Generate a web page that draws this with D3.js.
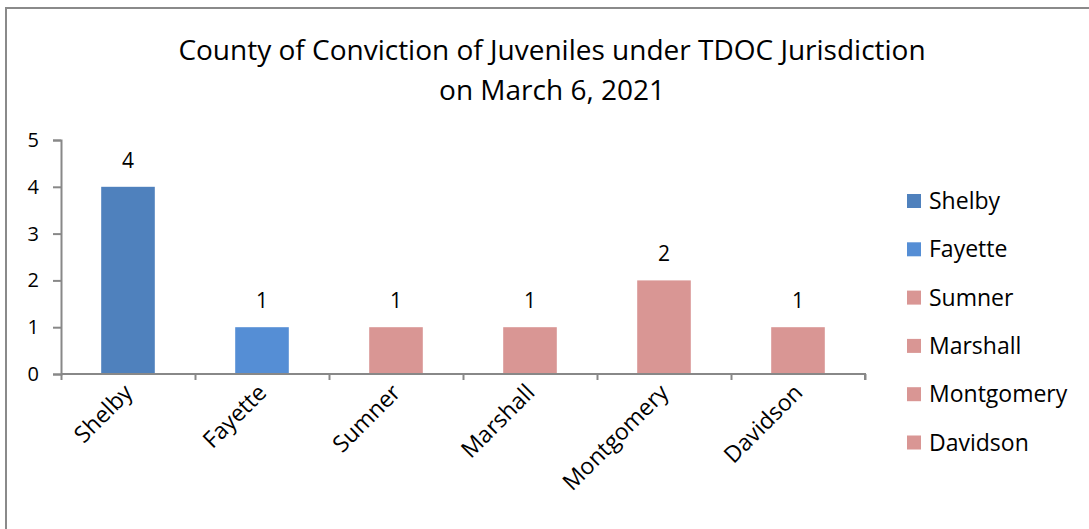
<!DOCTYPE html>
<html>
<head>
<meta charset="utf-8">
<script src="https://cdn.jsdelivr.net/npm/d3@7"></script>
<style>
  body { margin: 0; background: #fff; }
  text { font-family: "Open Sans", sans-serif; fill: #000; }
</style>
</head>
<body>
<script>
const WIDTH = 1089;
const HEIGHT = 529;

// Chart data.
const counties = ['Shelby', 'Fayette', 'Sumner', 'Marshall', 'Montgomery', 'Davidson'];
const counts = [4, 1, 1, 1, 2, 1];
const barColors = ['#4f81bd', '#558ed5', '#d99694', '#d99694', '#d99694', '#d99694'];
const yTicks = [0, 1, 2, 3, 4, 5];
const titleLines = ['County of Conviction of Juveniles under TDOC Jurisdiction', 'on March 6, 2021'];

const plot = { left: 61, right: 865, top: 140, bottom: 374 };

var svg = d3.select('body')
    .append('svg')
    .attr('width', WIDTH)
    .attr('height', HEIGHT);

// Outer chart border (only top and left edges are inside the frame).
svg.append('rect')
    .attr('x', 6)
    .attr('y', 8)
    .attr('width', WIDTH + 20)
    .attr('height', HEIGHT + 20)
    .attr('fill', 'none')
    .attr('stroke', '#8a8a8a')
    .attr('stroke-width', 2);

// Title.
svg.append('text')
    .attr('text-anchor', 'middle')
    .style('font-size', '28px')
    .selectAll('tspan')
    .data(titleLines)
    .enter()
    .append('tspan')
    .attr('x', 552)
    .attr('y', (d, i) => 60 + i * 40)
    .text(d => d);

var x = d3.scaleBand()
    .domain(counties)
    .range([plot.left, plot.right])
    .paddingInner(0.6)
    .paddingOuter(0.3);

var y = d3.scaleLinear()
    .domain([0, 5])
    .range([plot.bottom, plot.top]);

// Bars.
svg.selectAll('.bar')
    .data(counties)
    .enter()
    .append('rect')
    .attr('class', 'bar')
    .attr('x', d => x(d))
    .attr('y', (d, i) => y(counts[i]))
    .attr('width', x.bandwidth())
    .attr('height', (d, i) => y(0) - y(counts[i]))
    .attr('fill', (d, i) => barColors[i]);

// Value labels.
svg.selectAll('.value')
    .data(counties)
    .enter()
    .append('text')
    .attr('class', 'value')
    .attr('x', d => x(d) + x.bandwidth() / 2)
    .attr('y', (d, i) => y(counts[i]) - 19)
    .attr('text-anchor', 'middle')
    .style('font-size', '21px')
    .text((d, i) => counts[i]);

// Y axis.
var yAxis = svg.append('g')
    .attr('transform', `translate(${plot.left},0)`)
    .call(d3.axisLeft(y).tickValues(yTicks).tickFormat(d3.format('d')).tickSize(8).tickPadding(14));
yAxis.selectAll('text').style('font-size', '20px').attr('fill', '#000');

// X axis with ticks at band boundaries.
var xEdges = d3.scaleLinear().domain([0, counties.length]).range([plot.left, plot.right]);
var xAxis = svg.append('g')
    .attr('transform', `translate(0,${plot.bottom})`)
    .call(d3.axisBottom(xEdges).ticks(counties.length).tickSize(6).tickFormat(''));
xAxis.select('.domain').attr('d', `M${plot.left},0H${plot.right}V6`);

svg.selectAll('.domain, .tick line')
    .attr('stroke', '#888')
    .attr('stroke-width', 2);

// Rotated category labels.
svg.selectAll('.xlabel')
    .data(counties)
    .enter()
    .append('text')
    .attr('class', 'xlabel')
    .attr('text-anchor', 'end')
    .attr('transform', d => `translate(${x(d) + x.bandwidth() / 2 + 6},${plot.bottom + 20}) rotate(-45)`)
    .style('font-size', '23px')
    .text(d => d);

// Legend.
var legend = svg.selectAll('.legend')
    .data(counties)
    .enter()
    .append('g')
    .attr('class', 'legend')
    .attr('transform', (d, i) => `translate(907,${201 + i * 48.3})`);
legend.append('rect')
    .attr('x', 0)
    .attr('y', -7)
    .attr('width', 14)
    .attr('height', 14)
    .attr('fill', (d, i) => barColors[i]);
legend.append('text')
    .attr('x', 22)
    .attr('dy', '0.35em')
    .style('font-size', '23px')
    .text(d => d);
</script>
</body>
</html>
